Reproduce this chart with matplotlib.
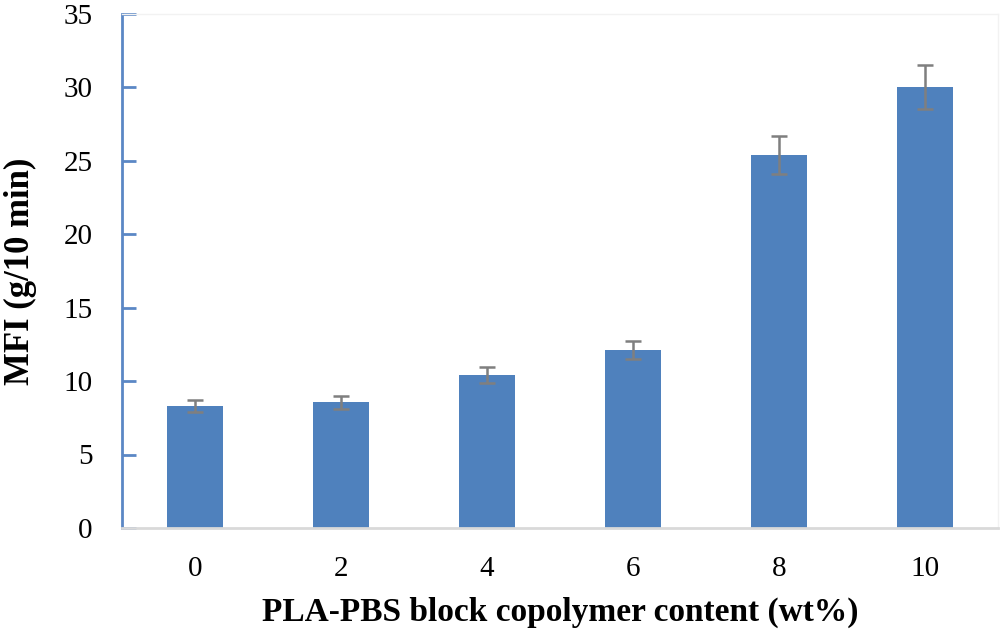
import matplotlib
matplotlib.use("Agg")
import matplotlib.pyplot as plt
import numpy as np

# copolymer content (wt%) and melt flow index
content = ['0', '2', '4', '6', '8', '10']
mfi = [8.3, 8.55, 10.43, 12.13, 25.4, 30.0]
mfi_err = [0.43, 0.44, 0.53, 0.61, 1.27, 1.5]

plt.rcParams['font.family'] = ['Liberation Serif', 'DejaVu Serif']

fig = plt.figure(figsize=(10, 6.3), dpi=100)
ax = fig.add_axes([0.122, 0.162, 0.876, 0.816])

pos = np.arange(len(content))
ax.bar(pos, mfi, 0.38, color='#4F81BD', zorder=2)
ax.errorbar(pos, mfi, yerr=mfi_err, fmt='none', ecolor='#7F7F7F',
            elinewidth=1.8, capsize=6, capthick=1.8, zorder=3)

ax.set_xlim(-0.5, len(content) - 0.5)
ax.set_ylim(0, 35)
ax.set_yticks(np.arange(0, 36, 5))
ax.set_xticks(pos)
ax.set_xticklabels(content)

for s in ['top', 'right']:
    ax.spines[s].set_color('#F2F2F2')
    ax.spines[s].set_linewidth(1)
ax.spines['left'].set_color('#5B87C5')
ax.spines['left'].set_linewidth(2)
ax.spines['bottom'].set_color('#D9D9D9')
ax.spines['bottom'].set_linewidth(2)

ax.tick_params(axis='y', direction='in', length=10, width=2, color='#5B87C5',
               labelsize=21, pad=21)
ax.tick_params(axis='x', length=0, labelsize=21, pad=20)

ax.set_ylabel('MFI (g/10 min)', fontsize=25, fontweight='bold', labelpad=19)
ax.set_xlabel('PLA-PBS block copolymer content (wt%)', fontsize=24,
              fontweight='bold', labelpad=11)

fig.savefig('out.png', dpi=100)
